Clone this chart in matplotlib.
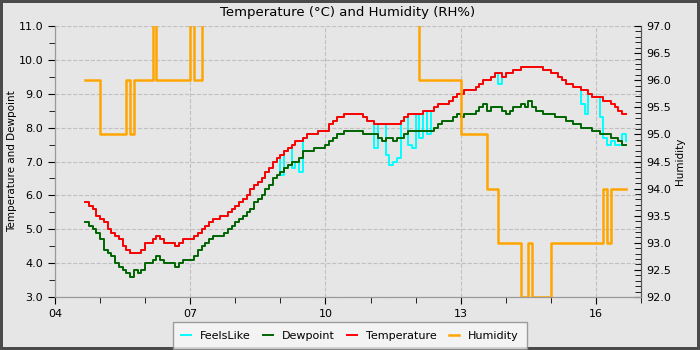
import matplotlib
matplotlib.use("Agg")
import matplotlib.pyplot as plt
from matplotlib.ticker import MultipleLocator, FormatStrFormatter
import numpy as np

# 5 minute samples from 04:40 to 16:40 (hours of the day)
hours = 4 + 40 / 60 + np.arange(145) * 5 / 60

temperature = [
    5.8, 5.7, 5.6, 5.4, 5.3, 5.2, 5.0, 4.9, 4.8, 4.7, 4.5, 4.4, 4.3, 4.3, 4.3, 4.4,
    4.6, 4.6, 4.7, 4.8, 4.7, 4.6, 4.6, 4.6, 4.5, 4.6, 4.7, 4.7, 4.7, 4.8, 4.9, 5.0,
    5.1, 5.2, 5.3, 5.3, 5.4, 5.4, 5.5, 5.6, 5.7, 5.8, 5.9, 6.0, 6.2, 6.3, 6.4, 6.5,
    6.7, 6.8, 7.0, 7.1, 7.2, 7.3, 7.4, 7.5, 7.6, 7.6, 7.7, 7.8, 7.8, 7.8, 7.9, 7.9,
    7.9, 8.1, 8.2, 8.3, 8.3, 8.4, 8.4, 8.4, 8.4, 8.4, 8.3, 8.2, 8.2, 8.1, 8.1, 8.1,
    8.1, 8.1, 8.1, 8.1, 8.2, 8.3, 8.4, 8.4, 8.4, 8.4, 8.5, 8.5, 8.5, 8.6, 8.7, 8.7,
    8.7, 8.8, 8.9, 9.0, 9.0, 9.1, 9.1, 9.1, 9.2, 9.3, 9.4, 9.4, 9.5, 9.6, 9.6, 9.5,
    9.6, 9.6, 9.7, 9.7, 9.8, 9.8, 9.8, 9.8, 9.8, 9.8, 9.7, 9.7, 9.6, 9.6, 9.5, 9.4,
    9.3, 9.3, 9.2, 9.2, 9.1, 9.1, 9.0, 8.9, 8.9, 8.9, 8.8, 8.8, 8.7, 8.6, 8.5, 8.4,
    8.4,
]

feelslike = [
    5.8, 5.7, 5.6, 5.4, 5.3, 5.2, 5.0, 4.9, 4.8, 4.7, 4.5, 4.4, 4.3, 4.3, 4.3, 4.4,
    4.6, 4.6, 4.7, 4.8, 4.7, 4.6, 4.6, 4.6, 4.5, 4.6, 4.7, 4.7, 4.7, 4.8, 4.9, 5.0,
    5.1, 5.2, 5.3, 5.3, 5.4, 5.4, 5.5, 5.6, 5.7, 5.8, 5.9, 6.0, 6.2, 6.3, 6.4, 6.5,
    6.7, 6.8, 7.0, 7.1, 6.6, 7.3, 7.4, 6.8, 7.0, 6.7, 7.7, 7.8, 7.8, 7.8, 7.9, 7.9,
    7.9, 8.1, 8.2, 8.3, 8.3, 8.4, 8.4, 8.4, 8.4, 8.4, 8.3, 8.2, 8.2, 7.4, 8.1, 8.1,
    7.2, 6.9, 7.0, 7.1, 8.2, 8.3, 7.5, 7.4, 8.4, 7.7, 8.5, 7.8, 8.5, 8.6, 8.7, 8.7,
    8.7, 8.8, 8.9, 9.0, 9.0, 9.1, 9.1, 9.1, 9.2, 9.3, 9.4, 9.4, 9.5, 9.6, 9.3, 9.5,
    9.6, 9.6, 9.7, 9.7, 9.8, 9.8, 9.8, 9.8, 9.8, 9.8, 9.7, 9.7, 9.6, 9.6, 9.5, 9.4,
    9.3, 9.3, 9.2, 9.2, 8.7, 8.4, 9.0, 8.9, 8.9, 8.3, 7.7, 7.5, 7.6, 7.5, 7.5, 7.8,
    7.6,
]

dewpoint = [
    5.2, 5.1, 5.0, 4.9, 4.7, 4.4, 4.3, 4.2, 4.0, 3.9, 3.8, 3.7, 3.6, 3.8, 3.7, 3.8,
    4.0, 4.0, 4.1, 4.2, 4.1, 4.0, 4.0, 4.0, 3.9, 4.0, 4.1, 4.1, 4.1, 4.2, 4.4, 4.5,
    4.6, 4.7, 4.8, 4.8, 4.8, 4.9, 5.0, 5.1, 5.2, 5.3, 5.4, 5.5, 5.6, 5.8, 5.9, 6.0,
    6.2, 6.3, 6.5, 6.6, 6.7, 6.8, 6.9, 7.0, 7.0, 7.1, 7.3, 7.3, 7.3, 7.4, 7.4, 7.4,
    7.5, 7.6, 7.7, 7.8, 7.8, 7.9, 7.9, 7.9, 7.9, 7.9, 7.8, 7.8, 7.8, 7.8, 7.7, 7.6,
    7.7, 7.7, 7.6, 7.7, 7.7, 7.8, 7.9, 7.9, 7.9, 7.9, 7.9, 7.9, 7.9, 8.0, 8.1, 8.2,
    8.2, 8.2, 8.3, 8.4, 8.3, 8.4, 8.4, 8.4, 8.5, 8.6, 8.7, 8.5, 8.6, 8.6, 8.6, 8.5,
    8.4, 8.5, 8.6, 8.6, 8.7, 8.6, 8.8, 8.6, 8.5, 8.5, 8.4, 8.4, 8.4, 8.3, 8.3, 8.3,
    8.2, 8.2, 8.1, 8.1, 8.0, 8.0, 8.0, 7.9, 7.9, 7.8, 7.8, 7.8, 7.7, 7.7, 7.6, 7.5,
    7.5,
]

# values above 97 run off the top of the chart
humidity = [
    96.0, 96.0, 96.0, 96.0, 95.0, 95.0, 95.0, 95.0, 95.0, 95.0, 95.0, 96.0, 95.0, 96.0, 96.0, 96.0,
    96.0, 96.0, 97.5, 96.0, 96.0, 96.0, 96.0, 96.0, 96.0, 96.0, 96.0, 96.0, 97.5, 96.0, 96.0, 97.5,
    97.5, 97.5, 97.5, 97.5, 97.5, 97.5, 97.5, 97.5, 97.5, 97.5, 97.5, 97.5, 97.5, 97.5, 97.5, 97.5,
    97.5, 97.5, 97.5, 97.5, 97.5, 97.5, 97.5, 97.5, 97.5, 97.5, 97.5, 97.5, 97.5, 97.5, 97.5, 97.5,
    97.5, 97.5, 97.5, 97.5, 97.5, 97.5, 97.5, 97.5, 97.5, 97.5, 97.5, 97.5, 97.5, 97.5, 97.5, 97.5,
    97.5, 97.5, 97.5, 97.5, 97.5, 97.5, 97.5, 97.5, 97.5, 96.0, 96.0, 96.0, 96.0, 96.0, 96.0, 96.0,
    96.0, 96.0, 96.0, 96.0, 95.0, 95.0, 95.0, 95.0, 95.0, 95.0, 95.0, 94.0, 94.0, 94.0, 93.0, 93.0,
    93.0, 93.0, 93.0, 93.0, 92.0, 92.0, 93.0, 92.0, 92.0, 92.0, 92.0, 92.0, 93.0, 93.0, 93.0, 93.0,
    93.0, 93.0, 93.0, 93.0, 93.0, 93.0, 93.0, 93.0, 93.0, 93.0, 94.0, 93.0, 94.0, 94.0, 94.0, 94.0,
    94.0,
]

hour_ticks = [4, 7, 10, 13, 16]
hour_labels = ["04", "07", "10", "13", "16"]

bg = "#e6e6e6"
fig = plt.figure(figsize=(7, 3.5), dpi=100, facecolor=bg,
                 edgecolor="#4a4a4a", linewidth=4)
ax = fig.add_axes([55 / 700, 53 / 350, 586 / 700, 271 / 350])
ax.set_facecolor(bg)

l1, = ax.plot(hours, feelslike, color="cyan", lw=1.4, drawstyle="steps-post", label="FeelsLike")
l2, = ax.plot(hours, dewpoint, color="#006400", lw=1.4, drawstyle="steps-post", label="Dewpoint")
l3, = ax.plot(hours, temperature, color="red", lw=1.4, drawstyle="steps-post", label="Temperature")

ax2 = ax.twinx()
l4, = ax2.plot(hours, humidity, color="orange", lw=1.8, drawstyle="steps-post", label="Humidity")

ax.set_xlim(4, 17)
ax.set_ylim(3, 11)
ax2.set_ylim(92, 97)

ax.set_xticks(hour_ticks)
ax.set_xticklabels(hour_labels)
ax.xaxis.set_minor_locator(MultipleLocator(1))
ax.yaxis.set_major_locator(MultipleLocator(1))
ax.yaxis.set_minor_locator(MultipleLocator(0.5))
ax.yaxis.set_major_formatter(FormatStrFormatter("%.1f"))
ax2.yaxis.set_major_locator(MultipleLocator(0.5))
ax2.yaxis.set_minor_locator(MultipleLocator(0.1))
ax2.yaxis.set_major_formatter(FormatStrFormatter("%.1f"))

ax.tick_params(which="both", labelsize=8, color="black", direction="out")
ax.tick_params(which="major", length=5)
ax.tick_params(which="minor", length=4)
ax2.tick_params(which="both", labelsize=8, color="black", direction="in")
ax2.tick_params(which="major", length=5)
ax2.tick_params(which="minor", length=4)

ax.grid(True, which="major", linestyle="--", color="#c0c0c0", lw=0.8)
ax.set_axisbelow(True)

for a in (ax, ax2):
    a.spines["top"].set_visible(False)
    a.spines["left"].set_color("#999999")
    a.spines["bottom"].set_color("#999999")
    a.spines["right"].set_color("#555555")

ax.set_ylabel("Temperature and Dewpoint", fontsize=7.5, labelpad=1)
ax2.set_ylabel("Humidity", fontsize=7.5, labelpad=3)
ax.set_title("Temperature (°C) and Humidity (RH%)", fontsize=9.5, pad=7)

leg = fig.legend(handles=[l1, l2, l3, l4], loc="lower center", ncol=4,
                 bbox_to_anchor=(0.5, 0.0), fontsize=8, frameon=True,
                 fancybox=False, handlelength=0.9, columnspacing=1.1,
                 borderpad=0.75, borderaxespad=0.1)
leg.get_frame().set_facecolor("#f7f7f7")
leg.get_frame().set_edgecolor("#888888")

fig.savefig("out.png", dpi=100, facecolor=bg, edgecolor="#4a4a4a")
